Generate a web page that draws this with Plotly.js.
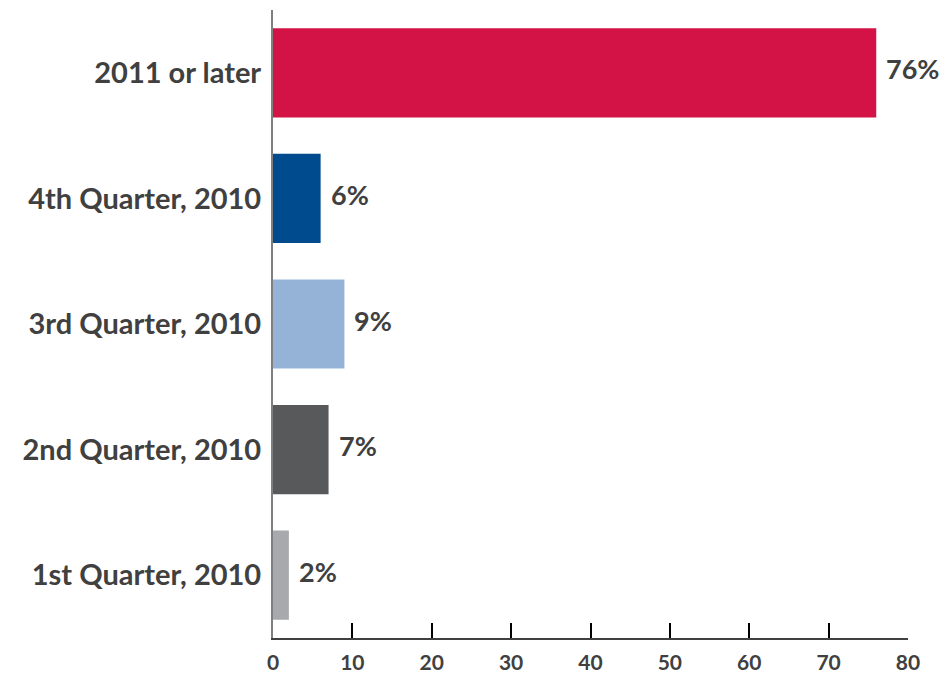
<!DOCTYPE html>
<html><head><meta charset="utf-8">
<script src="https://cdn.plot.ly/plotly-3.0.1.min.js"></script>
<style>html,body{margin:0;padding:0;background:#fff;}#chart{width:951px;height:675px;}</style>
</head><body><div id="chart"></div>
<script>
const categories = ["1st Quarter, 2010", "2nd Quarter, 2010", "3rd Quarter, 2010", "4th Quarter, 2010", "2011 or later"];
const values = [2, 7, 9, 6, 76];
const barColors = ["#A7A9AC", "#58595B", "#95B3D7", "#004B8D", "#D31245"];
const xTicks = [0, 10, 20, 30, 40, 50, 60, 70, 80];

const trace = {
  type: "bar",
  orientation: "h",
  y: categories,
  x: values,
  marker: {color: barColors, line: {width: 0}},
  hoverinfo: "none"
};

const annotations = categories.map((c, i) => ({
  x: values[i], y: c, xref: "x", yref: "y",
  text: values[i] + "%", showarrow: false,
  xanchor: "left", yanchor: "middle", xshift: 8, yshift: 4,
  font: {family: "Lato, 'Open Sans', sans-serif", size: 27, color: "#404040", weight: "bold"}
}));

const layout = {
  width: 951, height: 675,
  margin: {l: 273, r: 43, t: 10, b: 37},
  paper_bgcolor: "#fff", plot_bgcolor: "#fff",
  showlegend: false,
  bargap: 0.29,
  font: {family: "Lato, 'Open Sans', sans-serif", color: "#404040"},
  annotations: annotations,
  xaxis: {
    range: [0, 80], tickvals: xTicks, ticktext: xTicks.map(String),
    showgrid: false, zeroline: false,
    showline: true, linecolor: "#404040", linewidth: 2,
    ticks: "inside", ticklen: 15, tickwidth: 2, tickcolor: "#000",
    tickfont: {size: 21, weight: "bold", color: "#404040"},
    ticklabelstandoff: 5,
    fixedrange: true
  },
  yaxis: {
    range: [-0.5, 4.5],
    showgrid: false, zeroline: false,
    showline: true, linecolor: "#7f7f7f", linewidth: 2,
    ticks: "",
    tickfont: {size: 29, weight: "bold", color: "#404040"},
    ticklabelstandoff: 4,
    fixedrange: true
  }
};

Plotly.newPlot("chart", [trace], layout, {displayModeBar: false, staticPlot: true});
</script>
</body></html>
